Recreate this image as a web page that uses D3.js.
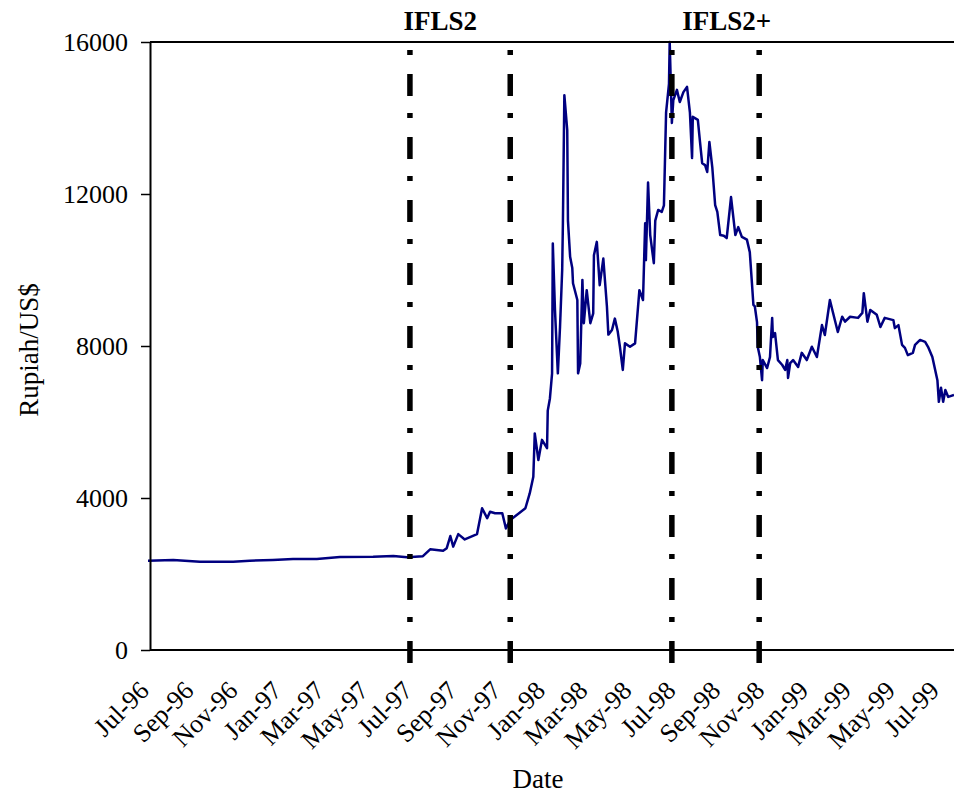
<!DOCTYPE html>
<html>
<head>
<meta charset="utf-8">
<script src="https://cdn.jsdelivr.net/npm/d3@7"></script>
<style>
  body { margin: 0; background: #fff; }
  text { font-family: "Liberation Serif", "Times New Roman", serif; }
</style>
</head>
<body>
<svg id="chart"></svg>
<script>
// Rupiah / US$ exchange rate
const dates = [
  "1996-07-01", "1996-08-05", "1996-09-11", "1996-10-27", "1996-11-19", "1996-12-21",
  "1997-01-18", "1997-02-20", "1997-03-24", "1997-05-09", "1997-06-06", "1997-06-25",
  "1997-07-17", "1997-07-27", "1997-08-14", "1997-08-19", "1997-08-24", "1997-08-28",
  "1997-09-04", "1997-09-13", "1997-09-30", "1997-10-07", "1997-10-14", "1997-10-18",
  "1997-10-25", "1997-11-04", "1997-11-09", "1997-11-15", "1997-11-24", "1997-12-06",
  "1997-12-12", "1997-12-17", "1997-12-19", "1997-12-24", "1997-12-29", "1998-01-05",
  "1998-01-06", "1998-01-09", "1998-01-12", "1998-01-13", "1998-01-16", "1998-01-20",
  "1998-01-23", "1998-01-26", "1998-01-27", "1998-01-29", "1998-02-02", "1998-02-03",
  "1998-02-06", "1998-02-09", "1998-02-10", "1998-02-16", "1998-02-17", "1998-02-20",
  "1998-02-23", "1998-02-25", "1998-03-01", "1998-03-06", "1998-03-10", "1998-03-11",
  "1998-03-15", "1998-03-19", "1998-03-24", "1998-03-29", "1998-03-31", "1998-04-05",
  "1998-04-09", "1998-04-13", "1998-04-16", "1998-04-20", "1998-04-23", "1998-04-30",
  "1998-05-07", "1998-05-13", "1998-05-18", "1998-05-21", "1998-05-22", "1998-05-25",
  "1998-05-28", "1998-06-02", "1998-06-04", "1998-06-08", "1998-06-13", "1998-06-16",
  "1998-06-19", "1998-06-23", "1998-06-24", "1998-06-27", "1998-06-29", "1998-07-04",
  "1998-07-08", "1998-07-13", "1998-07-18", "1998-07-22", "1998-07-25", "1998-07-26",
  "1998-08-02", "1998-08-05", "1998-08-08", "1998-08-12", "1998-08-15", "1998-08-18",
  "1998-08-22", "1998-08-26", "1998-08-29", "1998-09-02", "1998-09-07", "1998-09-11",
  "1998-09-17", "1998-09-23", "1998-09-27", "1998-10-02", "1998-10-09", "1998-10-13",
  "1998-10-16", "1998-10-18", "1998-10-20", "1998-10-23", "1998-10-24", "1998-10-27",
  "1998-10-30", "1998-10-31", "1998-11-06", "1998-11-10", "1998-11-13", "1998-11-14",
  "1998-11-17", "1998-11-21", "1998-11-27", "1998-12-01", "1998-12-04", "1998-12-05",
  "1998-12-08", "1998-12-12", "1998-12-19", "1998-12-24", "1998-12-31", "1999-01-07",
  "1999-01-14", "1999-01-21", "1999-01-25", "1999-02-01", "1999-02-05", "1999-02-12",
  "1999-02-18", "1999-02-22", "1999-03-01", "1999-03-12", "1999-03-18", "1999-03-20",
  "1999-03-25", "1999-03-29", "1999-04-07", "1999-04-12", "1999-04-18", "1999-04-30",
  "1999-05-02", "1999-05-07", "1999-05-12", "1999-05-16", "1999-05-20", "1999-05-27",
  "1999-05-30", "1999-06-06", "1999-06-13", "1999-06-17", "1999-06-23", "1999-06-30",
  "1999-07-02", "1999-07-05", "1999-07-08", "1999-07-11", "1999-07-15", "1999-07-23"
];
const rates = [
  2350, 2368, 2325, 2325, 2350, 2368,
  2395, 2395, 2447, 2455, 2474, 2440,
  2470, 2650, 2610, 2680, 3000, 2720,
  3050, 2910, 3050, 3730, 3470, 3640,
  3600, 3600, 3200, 3420, 3550, 3730,
  4120, 4560, 5700, 5000, 5530, 5310,
  6300, 6620, 7280, 10700, 8950, 7280,
  8500, 10000, 11230, 14600, 13680, 11300,
  10350, 10050, 9650, 9210, 7280, 7540,
  9740, 8600, 9470, 8600, 8860, 10390,
  10740, 9600, 10300, 9040, 8300, 8420,
  8720, 8380, 7980, 7370, 8070, 7980,
  8070, 9470, 9210, 11230, 10260, 12300,
  10920, 10180, 11300, 11580, 11530, 11700,
  14150, 14900, 16000, 13870, 14470, 14740,
  14420, 14680, 14820, 14150, 12950, 14030,
  13950, 13370, 12810, 12760, 12580, 13370,
  12710, 11710, 11530, 10920, 10900, 10840,
  11920, 10920, 11130, 10870, 10800, 10470,
  9650, 9080, 9040, 8630, 7980, 7710,
  7100, 7630, 7420, 7710, 8740, 8240,
  8340, 7630, 7500, 7370, 7630, 7160,
  7550, 7630, 7450, 7820, 7630, 7980,
  7710, 8550, 8290, 9210, 8900, 8370,
  8770, 8640, 8770, 8740, 8870, 9390,
  8640, 8950, 8820, 8500, 8740, 8680,
  8470, 8550, 8030, 7950, 7760, 7820,
  8030, 8160, 8110, 7980, 7710, 7100,
  6530, 6900, 6530, 6840, 6660, 6710
];

const tickLabels = [
  "Jul-96", "Sep-96", "Nov-96", "Jan-97", "Mar-97", "May-97", "Jul-97",
  "Sep-97", "Nov-97", "Jan-98", "Mar-98", "May-98", "Jul-98", "Sep-98",
  "Nov-98", "Jan-99", "Mar-99", "May-99", "Jul-99"
];
const yTicks = [0, 4000, 8000, 12000, 16000];

// survey periods (start/end dates of the dashed lines)
const surveyNames = ["IFLS2", "IFLS2+"];
const surveyLabelDates = ["1997-08-10", "1998-09-11"];
const surveyLines = ["1997-06-29", "1997-11-15", "1998-06-27", "1998-10-26"];

const parseDate = d3.timeParse("%Y-%m-%d");
const parseTick = d3.timeParse("%b-%y");
const data = dates.map((d, i) => ({ date: parseDate(d), value: rates[i] }));

const width = 954, height = 797;
const margin = { top: 42, right: 0, bottom: 147, left: 150 };
const plotH = height - margin.top - margin.bottom;

const svg = d3.select("#chart").attr("width", width).attr("height", height);

const x = d3.scaleTime()
  .domain([parseDate("1996-07-01"), parseDate("1999-07-23")])
  .range([148, width - margin.right]);
const y = d3.scaleLinear().domain([0, 16000]).range([margin.top + plotH, margin.top]);

// line
const line = d3.line().x(d => x(d.date)).y(d => y(d.value));
svg.append("path")
  .datum(data)
  .attr("fill", "none")
  .attr("stroke", "#000080")
  .attr("stroke-width", 2.5)
  .attr("stroke-linejoin", "round")
  .attr("d", line);

// top border
svg.append("line")
  .attr("x1", margin.left).attr("x2", width)
  .attr("y1", y(16000)).attr("y2", y(16000))
  .attr("stroke", "#000").attr("stroke-width", 2);

// y axis
const yAxis = svg.append("g")
  .attr("transform", "translate(" + margin.left + ",0)")
  .call(d3.axisLeft(y).tickValues(yTicks).tickFormat(d3.format("d"))
    .tickSize(9).tickSizeOuter(0).tickPadding(13));
yAxis.select(".domain").attr("stroke-width", 2);
yAxis.selectAll(".tick line").attr("stroke-width", 1.5);
yAxis.selectAll("text").attr("font-size", 26).attr("fill", "#000")
  .style("font-family", "'Liberation Serif', serif");

// x axis
const xAxis = svg.append("g")
  .attr("transform", "translate(0," + y(0) + ")")
  .call(d3.axisBottom(x)
    .tickValues(tickLabels.map(parseTick))
    .tickSize(0)
    .tickFormat((d, i) => tickLabels[i]));
xAxis.select(".domain").attr("d", "M" + margin.left + ",0H" + width).attr("stroke-width", 2);
xAxis.selectAll("text")
  .attr("x", 0).attr("y", 0).attr("dy", 0)
  .attr("text-anchor", "end")
  .attr("transform", "translate(2,42) rotate(-45)")
  .attr("font-size", 26).attr("fill", "#000")
  .style("font-family", "'Liberation Serif', serif");

// survey period lines
svg.selectAll(".survey")
  .data(surveyLines)
  .enter()
  .append("line")
  .attr("class", "survey")
  .attr("x1", d => x(parseDate(d))).attr("x2", d => x(parseDate(d)))
  .attr("y1", y(16000)).attr("y2", y(0) + 16)
  .attr("stroke", "#000")
  .attr("stroke-width", 5.5)
  .attr("stroke-dasharray", "22,17,5,19")
  .attr("stroke-dashoffset", 31);

svg.selectAll(".survey-label")
  .data(surveyNames)
  .enter()
  .append("text")
  .attr("x", (d, i) => x(parseDate(surveyLabelDates[i])))
  .attr("y", 30)
  .attr("text-anchor", "middle")
  .attr("font-size", 27)
  .attr("font-weight", "bold")
  .text(d => d);

// axis titles
svg.append("text")
  .attr("x", 538).attr("y", 788)
  .attr("text-anchor", "middle")
  .attr("font-size", 27)
  .text("Date");

svg.append("text")
  .attr("transform", "translate(38,350) rotate(-90)")
  .attr("text-anchor", "middle")
  .attr("font-size", 27)
  .text("Rupiah/US$");
</script>
</body>
</html>
